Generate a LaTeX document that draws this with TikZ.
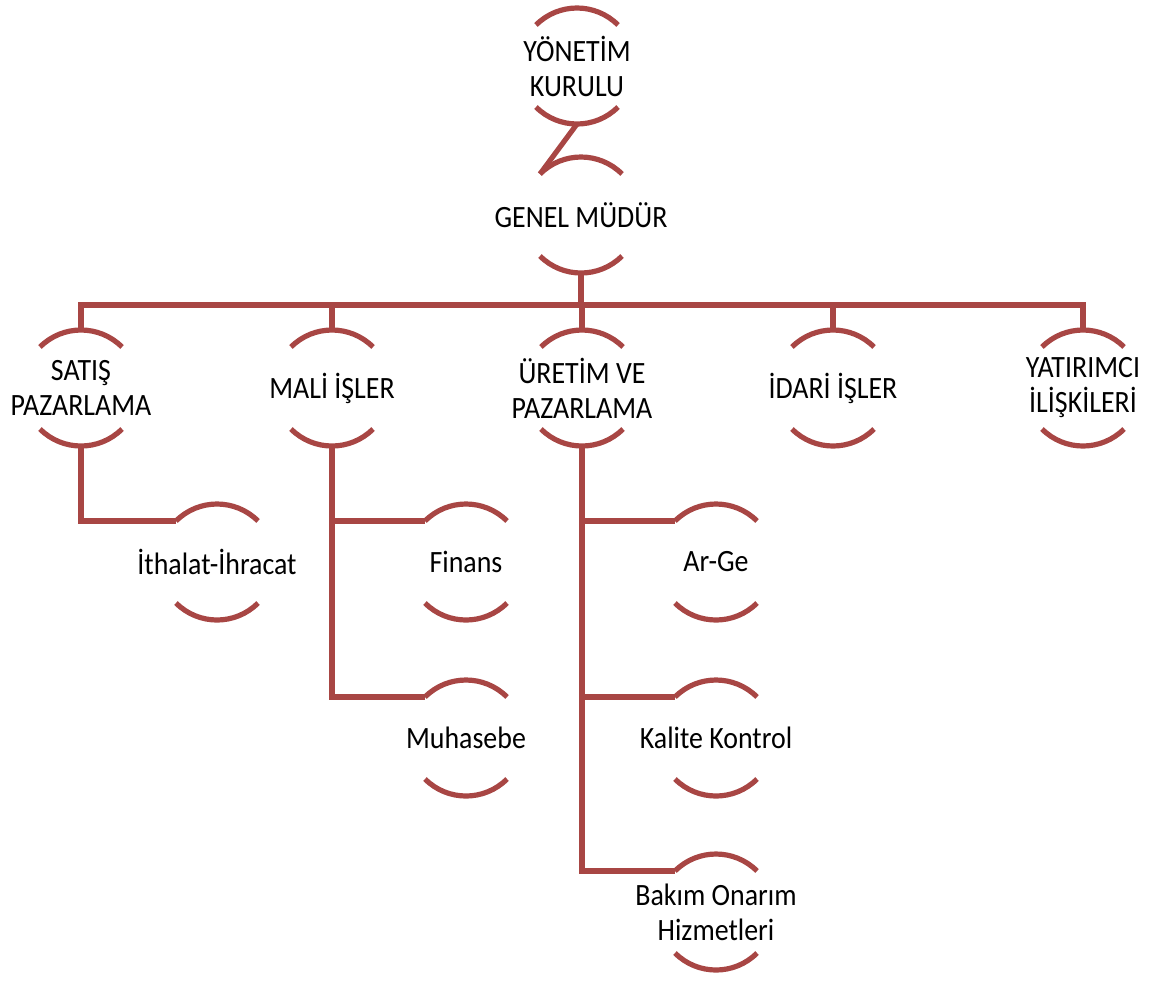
\documentclass[tikz,border=0pt]{standalone}
\usepackage{fontspec}
\setmainfont[FakeStretch=0.9]{Carlito}
\usepackage{tikz}
\definecolor{arcred}{HTML}{A84644}
\tikzset{
  unit/.style={align=center, inner sep=0pt, font=\fontsize{15.5pt}{17.5pt}\selectfont},
  arcline/.style={draw=arcred, line width=2.6pt},
  link/.style={draw=arcred, line width=2.6pt}
}

\begin{document}
\begin{tikzpicture}[x=0.5pt,y=0.5pt]
  \useasboundingbox (0,0) rectangle (1155,-981);

  % Board and general manager
  \node[unit] (yk) at (577,-66) {YÖNETİM\\KURULU};
  \node[unit] (gm) at (581,-215) {GENEL MÜDÜR};

  % Departments
  \node[unit] (sp) at (81,-388) {SATIŞ\\PAZARLAMA};
  \node[unit] (mi) at (332,-388) {MALİ İŞLER};
  \node[unit] (uv) at (582,-388) {ÜRETİM VE\\PAZARLAMA};
  \node[unit] (ii) at (833,-388) {İDARİ İŞLER};
  \node[unit] (yi) at (1083,-388) {YATIRIMCI\\İLİŞKİLERİ};

  % Sub units
  \node[unit] (ih) at (217,-562) {İthalat-İhracat};
  \node[unit] (fn) at (466,-562) {Finans};
  \node[unit] (mh) at (466,-738) {Muhasebe};
  \node[unit] (ag) at (716,-562) {Ar-Ge};
  \node[unit] (kk) at (716,-738) {Kalite Kontrol};
  \node[unit] (bo) at (716,-912) {Bakım Onarım\\Hizmetleri};

  % Arcs round every unit
  \foreach \n in {yk,gm,sp,mi,uv,ii,yi,ih,fn,mh,ag,kk,bo} {
    \draw[arcline] ([shift={(45:29pt)}]\n.center) arc[start angle=45,end angle=135,radius=29pt];
    \draw[arcline] ([shift={(225:29pt)}]\n.center) arc[start angle=225,end angle=315,radius=29pt];
    \coordinate (\n-n) at ([yshift=29pt]\n.center);
    \coordinate (\n-s) at ([yshift=-29pt]\n.center);
    \coordinate (\n-nw) at ([shift={(135:29pt)}]\n.center);
  }

  % Connect board to manager, manager to departments
  \draw[link] (yk-s) -- (gm-nw);
  \coordinate (bus) at (0,-305);
  \draw[link] (gm-s) -- (gm-s |- bus);
  \draw[link] (sp-n) |- (bus -| yi-n) -- (yi-n);
  \foreach \n in {mi,uv,ii} \draw[link] (\n-n) -- (\n-n |- bus);

  % Connect departments to sub units
  \draw[link] (sp-s) |- (ih-nw);
  \draw[link] (mi-s) |- (fn-nw);
  \draw[link] (mi-s) |- (mh-nw);
  \draw[link] (uv-s) |- (ag-nw);
  \draw[link] (uv-s) |- (kk-nw);
  \draw[link] (uv-s) |- (bo-nw);

\end{tikzpicture}
\end{document}
